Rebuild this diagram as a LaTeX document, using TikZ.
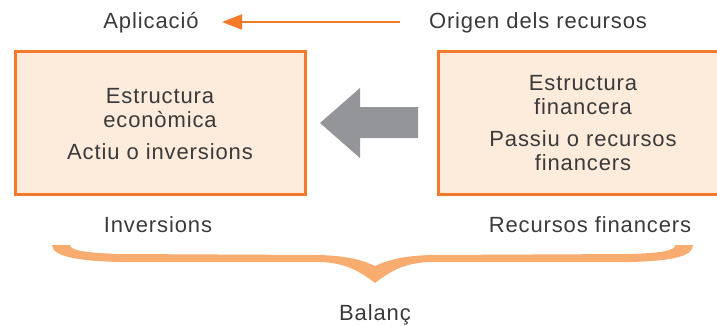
\documentclass[tikz,border=0pt]{standalone}
\usepackage{fontspec}
\setmainfont{Liberation Sans}[LetterSpace=4]
\usetikzlibrary{arrows.meta}
\definecolor{txt}{HTML}{3A3A3A}
\definecolor{orangeline}{HTML}{F27A2A}
\definecolor{boxfill}{HTML}{FDEBDC}
\definecolor{bracecol}{HTML}{F9AC70}
\definecolor{grayarrow}{HTML}{939598}
\tikzset{
  lbl/.style={text=txt, font=\fontsize{22}{24}\selectfont, inner sep=0pt},
  boxtxt/.style={lbl, align=center},
  panel/.style={draw=orangeline, fill=boxfill, line width=3pt, inner sep=0pt},
  flow/.style={draw=orangeline, line width=2pt, -{Triangle[length=20pt,width=15pt]}}
}
\begin{document}
\begin{tikzpicture}[x=1pt,y=-1pt]
\useasboundingbox (0,0) rectangle (717,325);
% top labels
\node[lbl, anchor=base] (apl) at (151,28) {Aplicació};
\node[lbl, anchor=base] (ori) at (538,28) {Origen dels recursos};
\coordinate (aplend) at (222,22);
\coordinate (oristart) at (400,22);
\draw[flow] (oristart) -- (aplend);
% boxes
\node[panel, minimum width=290pt, minimum height=143pt] (lbox) at (160.5,123) {};
\begin{scope}
\clip (0,0) rectangle (717,325);
\node[panel, minimum width=297pt, minimum height=143pt] (rbox) at (587,123) {};
\end{scope}
\node[boxtxt] (ltxt) at (160,124) {Estructura\\econòmica\\[8pt]Actiu o inversions};
\node[boxtxt] (rtxt) at (583,123.5) {Estructura\\financera\\[8pt]Passiu o recursos\\financers};
% big gray arrow
\fill[grayarrow] (320,123) -- (360,88) -- (360,107) -- (418,107) -- (418,138) -- (360,138) -- (360,158) -- cycle;
% bottom labels
\node[lbl, anchor=base] (inv) at (158,232) {Inversions};
\node[lbl, anchor=base] (rec) at (590,232) {Recursos financers};
% brace
\fill[bracecol] (52,245) -- (70,245)
  .. controls (70,251) and (90,253) .. (120,254)
  -- (320,255)
  .. controls (345,256) and (360,259) .. (375,266)
  .. controls (390,259) and (405,256) .. (430,255)
  -- (630,254)
  .. controls (660,253) and (675,251) .. (675,245)
  -- (693,245)
  .. controls (693,257) and (670,261) .. (630,262)
  -- (430,262)
  .. controls (405,263) and (392,270) .. (375,283)
  .. controls (358,270) and (345,263) .. (320,262)
  -- (120,262)
  .. controls (80,261) and (52,257) .. (52,245) -- cycle;
\node[lbl, anchor=base] (bal) at (375,320) {Balanç};
\end{tikzpicture}
\end{document}
